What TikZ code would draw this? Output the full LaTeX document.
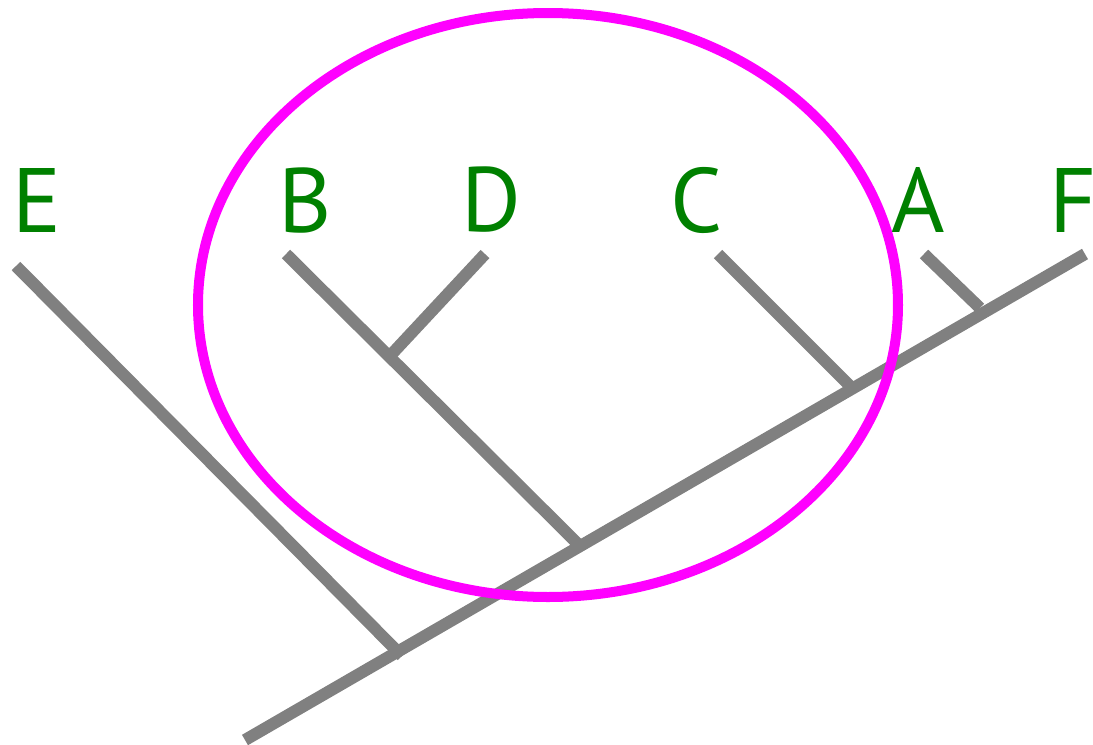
\documentclass[tikz,border=0pt]{standalone}
\usepackage{fontspec}
\setmainfont{PT Sans}
\usepackage{tikz}
\definecolor{cladepink}{RGB}{255,0,255}
\definecolor{taxongreen}{RGB}{0,128,0}

\begin{document}
\begin{tikzpicture}[x=0.01cm, y=-0.01cm,
    taxon/.style={text=taxongreen, font=\fontsize{26}{28}\selectfont, inner sep=0pt},
    branch/.style={draw=gray, line width=0.12cm}]
      \useasboundingbox (0, 0) rectangle (1093, 745);
      % taxa
      \node[taxon] (E) at (37, 200) {E};
      \node[taxon] (B) at (305, 200) {B};
      \node[taxon] (D) at (491, 200) {D};
      \node[taxon] (C) at (697, 200) {C};
      \node[taxon] (A) at (918, 200) {A};
      \node[taxon] (F) at (1073, 200) {F};
      % branch tips and joins
      \coordinate (tE) at (16, 266);
      \coordinate (tB) at (286, 254);
      \coordinate (tD) at (485, 254);
      \coordinate (tC) at (718, 254);
      \coordinate (tA) at (924, 254);
      \coordinate (tF) at (1085, 254);
      \coordinate (root) at (245, 740);
      \coordinate (jE) at (402, 656);
      \coordinate (jB) at (578, 544);
      \coordinate (jD) at (389, 357);
      \coordinate (jC) at (850, 386);
      \coordinate (jA) at (980, 308);
      \draw[branch] (root) -- (tF);
      \draw[branch] (tE) -- (jE);
      \draw[branch] (tB) -- (jB);
      \draw[branch] (tD) -- (jD);
      \draw[branch] (tC) -- (jC);
      \draw[branch] (tA) -- (jA);
      % clade
      \draw[cladepink, line width=0.1cm] (548, 305) ellipse (350 and 292);
    \end{tikzpicture}
\end{document}
